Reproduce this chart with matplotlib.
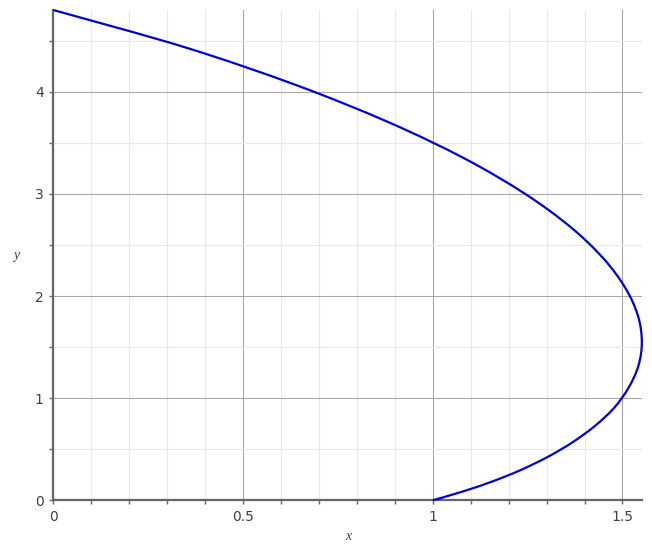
import matplotlib
matplotlib.use("Agg")
import matplotlib.pyplot as plt
import numpy as np
from matplotlib.path import Path
from matplotlib.patches import PathPatch
from matplotlib.ticker import MultipleLocator, FuncFormatter

# curve points, from (1, 0) round to (0, 4.8)
x_vals = [1.000, 1.078, 1.156, 1.231, 1.302, 1.368, 1.427, 1.478, 1.516,
          1.542, 1.551, 1.541, 1.508, 1.450, 1.363, 1.243, 1.086, 0.887,
          0.643, 0.349, 0.000]
y_vals = [0.000, 0.085, 0.183, 0.295, 0.423, 0.567, 0.727, 0.905, 1.102,
          1.317, 1.551, 1.804, 2.076, 2.367, 2.676, 3.001, 3.342, 3.696,
          4.061, 4.433, 4.800]

x_ticks = [0, 0.5, 1, 1.5]
y_ticks = [0, 1, 2, 3, 4]


def smooth_path(xs, ys):
    # catmull-rom through the read points, drawn as cubic bezier segments
    pts = np.column_stack([xs, ys])
    padded = np.vstack([pts[0], pts, pts[-1]])
    verts = [pts[0]]
    codes = [Path.MOVETO]
    for i in range(1, len(padded) - 2):
        p0, p1, p2, p3 = padded[i - 1], padded[i], padded[i + 1], padded[i + 2]
        verts += [p1 + (p2 - p0) / 6, p2 - (p3 - p1) / 6, p2]
        codes += [Path.CURVE4] * 3
    return Path(verts, codes)


fig = plt.figure(figsize=(6.52, 5.49), dpi=100)
ax = fig.add_axes([0.0818, 0.0887, 0.9026, 0.8930])

curve = PathPatch(smooth_path(x_vals, y_vals), fill=False, edgecolor="#0000d0",
                  lw=1.6, clip_on=False, zorder=3)
ax.add_patch(curve)

ax.set_xlim(0, 1.551)
ax.set_ylim(0, 4.8)

ax.set_xticks(x_ticks)
ax.set_yticks(y_ticks)
ax.xaxis.set_minor_locator(MultipleLocator(0.1))
ax.yaxis.set_minor_locator(MultipleLocator(0.5))
fmt = FuncFormatter(lambda v, pos: f"{v:g}")
ax.xaxis.set_major_formatter(fmt)
ax.yaxis.set_major_formatter(fmt)

ax.grid(which="major", color="#a8a8a8", lw=0.8)
ax.grid(which="minor", color="#e8e8e8", lw=0.8)
ax.set_axisbelow(True)

for side in ["top", "right"]:
    ax.spines[side].set_visible(False)
for side in ["left", "bottom"]:
    ax.spines[side].set_color("#666666")
    ax.spines[side].set_linewidth(1.6)

ax.tick_params(which="both", direction="out", length=3, width=1,
               color="#666666", labelsize=10, labelcolor="#404040", pad=4)

fig.text(16 / 652, 1 - 256 / 549, "y", fontsize=10, family="Liberation Serif",
         style="italic", color="#404040", ha="center", va="center")
fig.text(348 / 652, 1 - 536 / 549, "x", fontsize=10, family="Liberation Serif",
         style="italic", color="#404040", ha="center", va="center")

fig.savefig("out.png", dpi=100)
